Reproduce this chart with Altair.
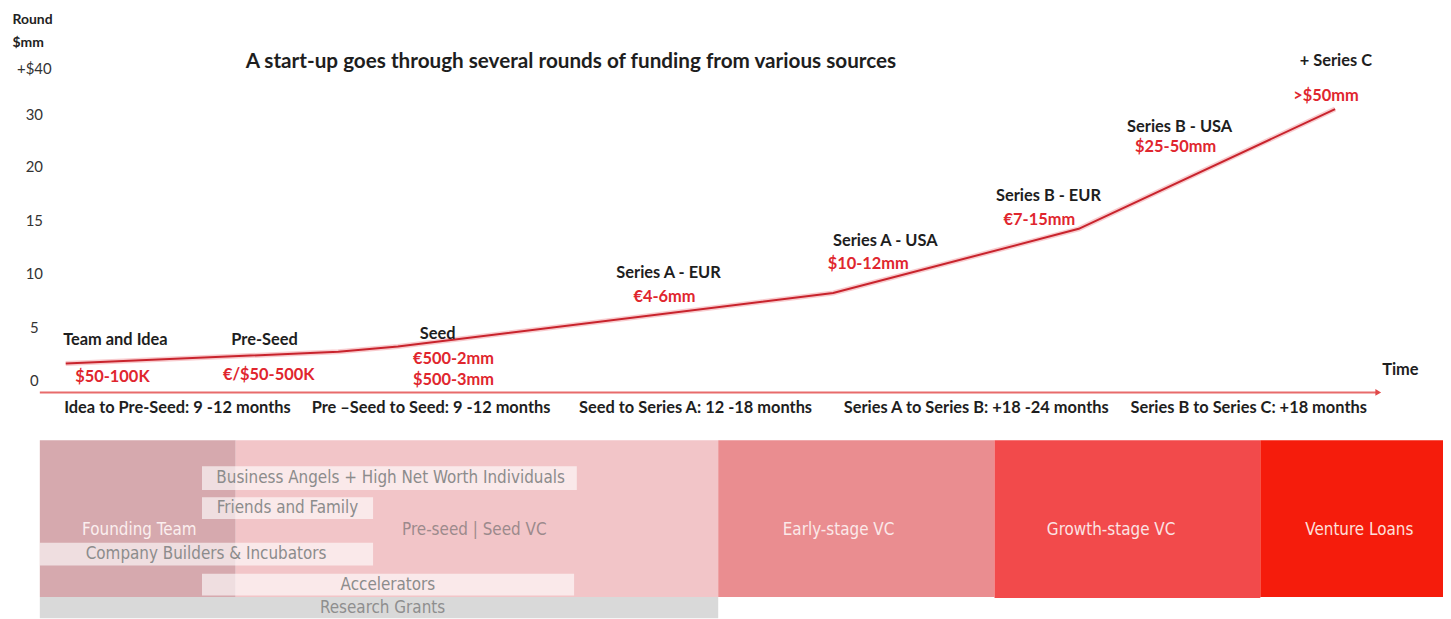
import altair as alt
import pandas as pd

# ---------------- data (top panel: funding curve) ----------------
tick_mm = [0, 5, 10, 15, 20, 30, 40]
tick_labels = ["0", "5", "10", "15", "20", "30", "+$40"]

curve_t = [0.096, 1.106, 1.327, 2.94, 3.85, 4.80]
curve_mm = [1.6, 2.7, 3.2, 8.2, 14.2, 31.1]

stage_names = ["Team and Idea", "Pre-Seed", "Seed", "Series A - EUR", "Series A - USA",
               "Series B - EUR", "Series B - USA", "+ Series C"]
stage_t = [0.28, 0.833, 1.474, 2.33, 3.133, 3.738, 4.224, 4.803]
stage_mm = [3.8, 3.8, 4.4, 10.1, 13.1, 17.3, 27.5, 41.5]

amount_text = ["$50-100K", "€/$50-500K", "€500-2mm", "$500-3mm", "€4-6mm", "$10-12mm",
               "€7-15mm", "$25-50mm", ">$50mm"]
amount_t = [0.269, 0.848, 1.533, 1.533, 2.315, 3.07, 3.704, 4.209, 4.766]
amount_mm = [0.3, 0.5, 2.0, 0.1, 7.8, 10.9, 15.0, 23.8, 33.9]

phase_text = ["Idea to Pre-Seed: 9 -12 months", "Pre \u2013Seed to Seed: 9 -12 months",
              "Seed to Series A: 12 -18 months", "Series A to Series B: +18 -24 months",
              "Series B to Series C: +18 months"]
phase_t = [0.51, 1.45, 2.43, 3.47, 4.48]
phase_mm = [-2.6, -2.6, -2.6, -2.6, -2.6]

time_axis_t = [0.0, 4.96]
time_axis_mm = [-1.1, -1.1]

title_text = ["A start-up goes through several rounds of funding from various sources"]
title_t = [1.968]
title_mm = [41.3]

time_label = ["Time"]
time_label_t = [5.042]
time_label_mm = [1.0]

# ---------------- data (bottom panel: funding sources) ----------------
block_names = ["Founding Team", "Pre-seed | Seed VC", "Early-stage VC", "Growth-stage VC",
               "Venture Loans", "Research Grants"]
block_t0 = [0.0, 0.726, 2.514, 3.538, 4.523, 0.0]
block_t1 = [0.726, 2.514, 3.538, 4.523, 5.2, 2.514]
block_r0 = [1.0, 1.0, 1.0, 0.95, 1.0, 0.0]
block_r1 = [8.33, 8.33, 8.33, 8.33, 8.33, 1.0]
block_colors = ["#d6a9ae", "#f2c5c8", "#ea8d90", "#f24a4b", "#f51c0c", "#d9d9d9"]
block_label_t = [0.369, 1.61, 2.96, 3.97, 4.89, 1.27]
block_label_r = [4.14, 4.14, 4.14, 4.14, 4.14, 0.5]
block_label_colors = ["#fbefef", "#9c8a8c", "#fbe9e9", "#fbe3e3", "#fde0dc", "#8e8e8e"]

overlay_names = ["Business Angels + High Net Worth Individuals", "Friends and Family",
                 "Company Builders & Incubators", "Accelerators"]
overlay_t0 = [0.601, 0.601, 0.0, 0.601]
overlay_t1 = [1.99, 1.235, 1.235, 1.98]
overlay_r0 = [6.0, 4.65, 2.47, 1.07]
overlay_r1 = [7.12, 5.67, 3.53, 2.09]
overlay_label_t = [1.30, 0.918, 0.616, 1.29]

# ---------------- helpers ----------------
# piecewise axis: 0-20 evenly, then 20-30 and 30-40 slightly compressed (as drawn)
def level_of(mm):
    if mm <= 20:
        return mm / 5
    if mm <= 30:
        return 4 + (mm - 20) * 0.0986
    return 4.986 + (mm - 30) * 0.0856

LEVEL = ("datum.mm <= 20 ? datum.mm / 5 : (datum.mm <= 30 ? 4 + (datum.mm - 20) * 0.0986"
         " : 4.986 + (datum.mm - 30) * 0.0856)")
tick_levels = [level_of(v) for v in tick_mm]
label_expr = ""
for lv, lab in zip(tick_levels, tick_labels):
    label_expr += f"abs(datum.value - {lv}) < 0.01 ? '{lab}' : "
label_expr += "''"

X_DOMAIN = [0, 5.2]
W = 1411
H_TOP = 412
H_BOT = 179
BOLD_FONT = "Lato"
NARROW_FONT = "DejaVu Sans Condensed, Roboto, sans-serif"
LABEL_SIZE = 16.5

xs = alt.Scale(domain=X_DOMAIN, nice=False, zero=False)
ys_top = alt.Scale(domain=[-0.7256, 6.94], nice=False, zero=False)

y_axis = alt.Axis(values=tick_levels, labelExpr=label_expr, domain=False, ticks=False,
                  grid=False, labelAlign="center", labelPadding=6, labelFontSize=15,
                  labelColor="#333333", labelFont="Lato",
                  title=["Round", "$mm"], titleAngle=0, titleAlign="left",
                  titleBaseline="top", titleX=-28, titleY=3, titleFontSize=14,
                  titleFont=BOLD_FONT, titleFontWeight="bold", titleColor="#222222",
                  titleLineHeight=23)

def top_df(t, mm, **extra):
    d = {"t": t, "mm": mm}
    d.update(extra)
    return pd.DataFrame(d)

curve_df = top_df(curve_t, curve_mm)
stage_df = top_df(stage_t, stage_mm, label=stage_names)
amount_df = top_df(amount_t, amount_mm, label=amount_text)
phase_df = top_df(phase_t, phase_mm, label=phase_text)
axis_df = top_df(time_axis_t, time_axis_mm)
title_df = top_df(title_t, title_mm, label=title_text)
timelab_df = top_df(time_label_t, time_label_mm, label=time_label)

X = alt.X("t:Q", scale=xs, axis=None)
Y = alt.Y("level:Q", scale=ys_top, axis=y_axis)


def base(df):
    return alt.Chart(df).transform_calculate(level=LEVEL)


glow = base(curve_df).mark_line(color="#f3a0a6", strokeWidth=5, opacity=0.55).encode(x=X, y=Y)
curve = base(curve_df).mark_line(color="#c8232c", strokeWidth=2).encode(x=X, y=Y)

time_line = base(axis_df).mark_line(color="#e86b6b", strokeWidth=2).encode(x=X, y=Y)
arrow_head = base(axis_df.tail(1)).mark_point(
    shape="triangle-right", filled=True, color="#e04848", size=45, opacity=1).encode(x=X, y=Y)


def txt(df, size, color):
    return base(df).mark_text(font=BOLD_FONT, fontWeight="bold", fontSize=size,
                              color=color, baseline="middle").encode(x=X, y=Y, text="label:N")


stage_txt = txt(stage_df, LABEL_SIZE, "#1e1e1e")
amount_txt = txt(amount_df, LABEL_SIZE, "#e0262e")
phase_txt = txt(phase_df, LABEL_SIZE, "#1e1e1e")
title_txt = txt(title_df, 20.8, "#1e1e1e")
timelab_txt = txt(timelab_df, LABEL_SIZE, "#1e1e1e")

top = alt.layer(time_line, arrow_head, glow, curve, stage_txt, amount_txt,
                phase_txt, title_txt, timelab_txt).properties(width=W, height=H_TOP)

# ---------------- bottom panel ----------------
blocks_df = pd.DataFrame({"name": block_names, "t0": block_t0, "t1": block_t1,
                          "r0": block_r0, "r1": block_r1,
                          "lt": block_label_t, "lr": block_label_r,
                          "tc": block_label_colors})
over_df = pd.DataFrame({"name": overlay_names, "t0": overlay_t0, "t1": overlay_t1,
                        "r0": overlay_r0, "r1": overlay_r1, "lt": overlay_label_t})
over_df["lr"] = (over_df["r0"] + over_df["r1"]) / 2

ys_bot = alt.Scale(domain=[0, 8.33], nice=False, zero=False)
BX0 = alt.X("t0:Q", scale=xs, axis=None)
BY0 = alt.Y("r0:Q", scale=ys_bot, axis=None)
LX = alt.X("lt:Q", scale=xs, axis=None)
LY = alt.Y("lr:Q", scale=ys_bot, axis=None)

blocks = alt.Chart(blocks_df).mark_rect().encode(
    x=BX0, x2="t1:Q", y=BY0, y2="r1:Q",
    color=alt.Color("name:N", scale=alt.Scale(domain=block_names, range=block_colors),
                    legend=None),
)
overlays = alt.Chart(over_df).mark_rect(color="white", opacity=0.62).encode(
    x=BX0, x2="t1:Q", y=BY0, y2="r1:Q",
)
block_txt = alt.Chart(blocks_df).mark_text(font=NARROW_FONT, fontSize=17,
                                           baseline="middle").encode(
    x=LX, y=LY, text="name:N", color=alt.Color("tc:N", scale=None),
)
over_txt = alt.Chart(over_df).mark_text(font=NARROW_FONT, fontSize=17, color="#8c8c8c",
                                        baseline="middle").encode(
    x=LX, y=LY, text="name:N",
)

bottom = alt.layer(blocks, overlays, block_txt, over_txt).properties(width=W, height=H_BOT)

chart = alt.vconcat(top, bottom, spacing=21).properties(
    padding={"left": 4, "top": 0, "right": 0, "bottom": 0}
).configure(background="white").configure_view(stroke=None)

chart.save("out.html", embed_options={"renderer": "svg", "actions": False})
